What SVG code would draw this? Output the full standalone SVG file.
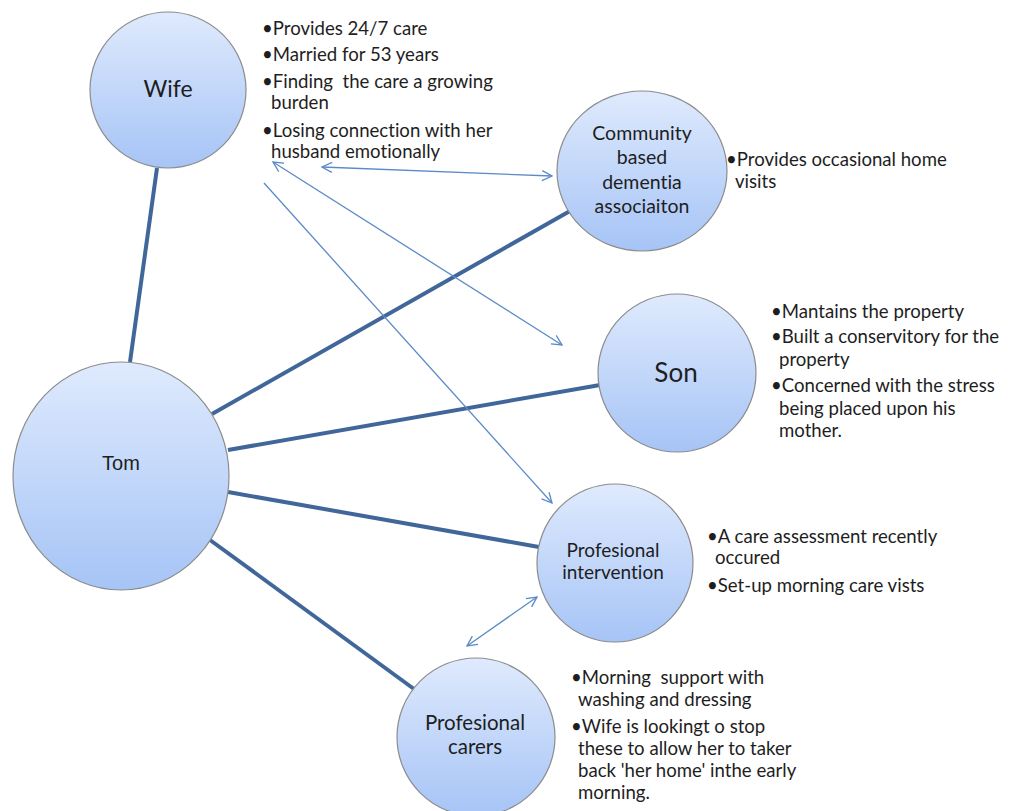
<svg xmlns="http://www.w3.org/2000/svg" width="1010" height="811" viewBox="0 0 1010 811">
<defs>
<linearGradient id="g" x1="0" y1="0" x2="0" y2="1">
<stop offset="0" stop-color="#dfeafd"/>
<stop offset="1" stop-color="#a6c4f6"/>
</linearGradient>
<marker id="ah" viewBox="0 0 12 12" refX="11" refY="6" markerWidth="12" markerHeight="12" markerUnits="userSpaceOnUse" orient="auto-start-reverse">
<path d="M1,1 L11,6 L1,11" fill="none" stroke="#5b8ac6" stroke-width="1.3"/>
</marker>
</defs>
<style>
.node{fill:url(#g);stroke:#8c8c8c;stroke-width:1.2}
text{font-variant-ligatures:none;white-space:pre}
.lbl{font-family:Lato,"Liberation Sans",sans-serif;fill:#1e1e1e;text-anchor:middle}
.b{font-family:Lato,"Liberation Sans",sans-serif;fill:#1e1e1e;font-size:18.6px}
.thick{stroke:#41679a;stroke-width:4;fill:none}
.thin{stroke:#5b8ac6;stroke-width:1.3;fill:none}
</style>
<rect width="1010" height="811" fill="#ffffff"/>
<g id="connectors">
<line class="thick" x1="157" y1="168" x2="130" y2="362"/>
<line class="thick" x1="212" y1="414" x2="570" y2="211"/>
<line class="thick" x1="228" y1="450" x2="600" y2="385"/>
<line class="thick" x1="228" y1="492" x2="539" y2="547"/>
<line class="thick" x1="210" y1="540" x2="414" y2="689"/>
<line class="thin" x1="322" y1="167" x2="552" y2="176" marker-start="url(#ah)" marker-end="url(#ah)"/>
<line class="thin" x1="273" y1="162" x2="562" y2="345" marker-start="url(#ah)" marker-end="url(#ah)"/>
<line class="thin" x1="264" y1="183" x2="552" y2="503" marker-end="url(#ah)"/>
<line class="thin" x1="467" y1="646" x2="537" y2="597" marker-start="url(#ah)" marker-end="url(#ah)"/>
</g>
<g id="wife">
<circle class="node" cx="168" cy="90" r="78"/>
<text class="lbl" x="168" y="97" font-size="23">Wife</text>
<text class="b" x="262" y="35">•Provides 24/7 care</text>
<text class="b" x="262" y="61">•Married for 53 years</text>
<text class="b" x="262" y="88" xml:space="preserve">•Finding  the care a growing</text>
<text class="b" x="271" y="109">burden</text>
<text class="b" x="262" y="137">•Losing connection with her</text>
<text class="b" x="271" y="158">husband emotionally</text>
</g>
<g id="community">
<ellipse class="node" cx="642" cy="171" rx="85" ry="80"/>
<text class="lbl" x="642" y="140" font-size="19.5">Community</text>
<text class="lbl" x="642" y="164" font-size="19.5">based</text>
<text class="lbl" x="642" y="189" font-size="19.5">dementia</text>
<text class="lbl" x="642" y="213" font-size="19.5">associaiton</text>
<text class="b" x="726" y="166">•Provides occasional home</text>
<text class="b" x="735" y="188">visits</text>
</g>
<g id="son">
<circle class="node" cx="677" cy="373" r="79"/>
<text class="lbl" x="676" y="382" font-size="26">Son</text>
<text class="b" x="771" y="318">•Mantains the property</text>
<text class="b" x="771" y="343">•Built a conservitory for the</text>
<text class="b" x="779" y="366">property</text>
<text class="b" x="771" y="392">•Concerned with the stress</text>
<text class="b" x="779" y="415">being placed upon his</text>
<text class="b" x="779" y="437">mother.</text>
</g>
<g id="tom">
<ellipse class="node" cx="121" cy="476" rx="108" ry="114"/>
<text class="lbl" x="121" y="470" font-size="20" font-family="'Liberation Sans',Arial,sans-serif" style="font-family:'Liberation Sans',Arial,sans-serif">Tom</text>
</g>
<g id="intervention">
<ellipse class="node" cx="615" cy="563" rx="78" ry="79"/>
<text class="lbl" x="613" y="557" font-size="19">Profesional</text>
<text class="lbl" x="613" y="579" font-size="19">intervention</text>
<text class="b" x="707" y="543">•A care assessment recently</text>
<text class="b" x="715" y="564">occured</text>
<text class="b" x="707" y="592">•Set-up morning care vists</text>
</g>
<g id="carers">
<circle class="node" cx="476" cy="737" r="79"/>
<text class="lbl" x="475" y="730" font-size="20.5">Profesional</text>
<text class="lbl" x="475" y="754" font-size="20.5">carers</text>
<text class="b" x="571" y="684" xml:space="preserve">•Morning  support with</text>
<text class="b" x="578" y="706">washing and dressing</text>
<text class="b" x="571" y="733">•Wife is lookingt o stop</text>
<text class="b" x="578" y="755">these to allow her to taker</text>
<text class="b" x="578" y="777">back 'her home' inthe early</text>
<text class="b" x="578" y="799">morning.</text>
</g>
</svg>
